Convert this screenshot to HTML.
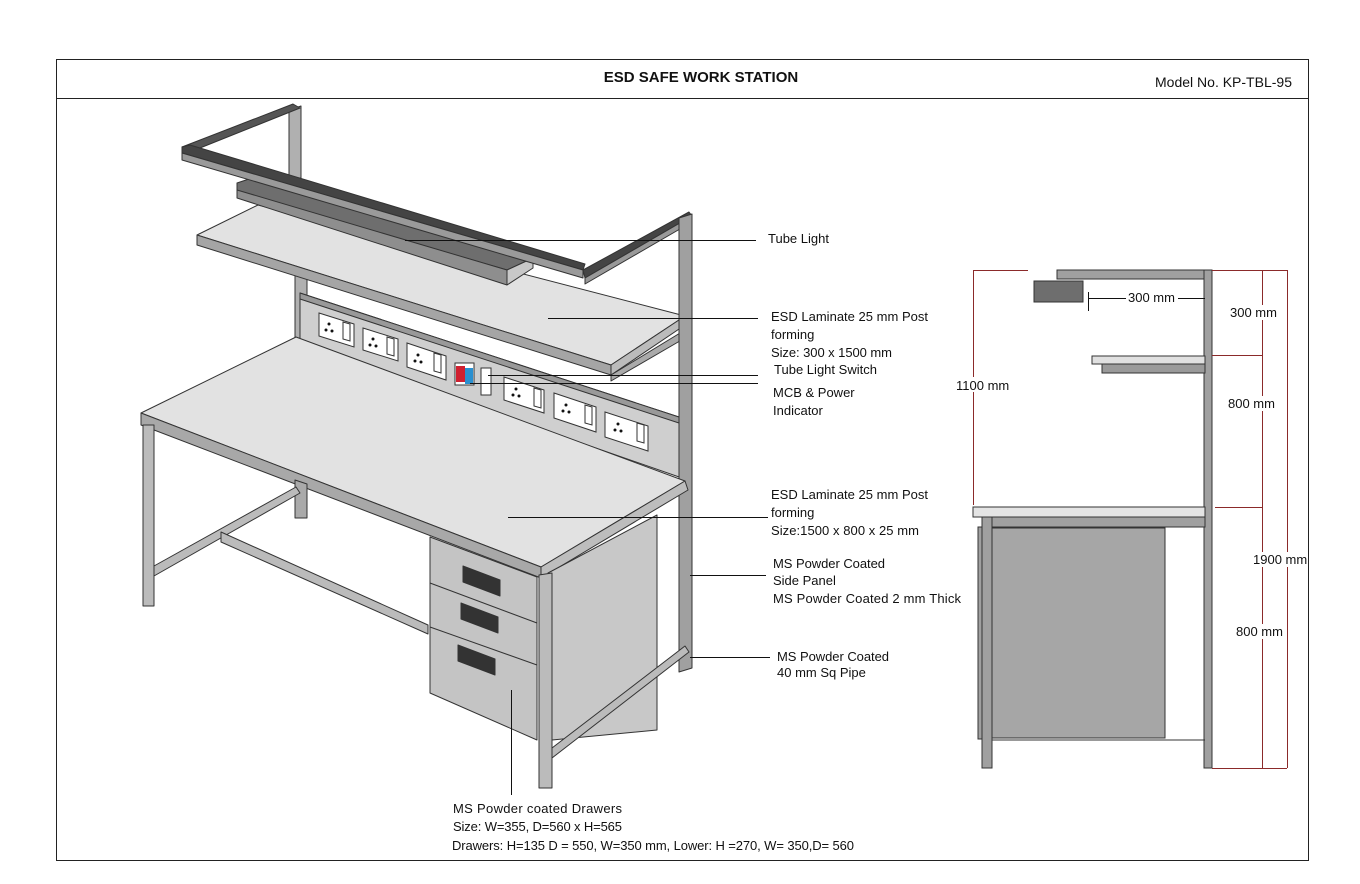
<!DOCTYPE html>
<html><head><meta charset="utf-8"><style>
html,body{margin:0;padding:0;background:#fff;}
svg{display:block;}
text{font-family:"Liberation Sans",sans-serif;font-size:13px;fill:#111;}
</style></head><body>
<svg width="1360" height="884" viewBox="0 0 1360 884" xmlns="http://www.w3.org/2000/svg">
<rect x="0" y="0" width="1360" height="884" fill="#fff"/>
<rect x="56.5" y="59.5" width="1252" height="801" fill="none" stroke="#222" stroke-width="1"/>
<line x1="56" y1="98.5" x2="1308" y2="98.5" stroke="#222"/>
<text x="701" y="82" text-anchor="middle" style="font-weight:bold;font-size:15px">ESD SAFE WORK STATION</text>
<text x="1155" y="87" style="font-size:14px" textLength="137">Model No. KP-TBL-95</text>

<g stroke="#333" stroke-width="1" stroke-linejoin="round">
<polygon points="289,110 301,106 301,178 289,178" fill="#b0b0b0"/>
<polygon points="182,147 293,104 300,108 190,152" fill="#555"/>
<polygon points="182,147 190,152 190,157 182,152" fill="#888"/>
<polygon points="295,275 307,275 307,340 295,340" fill="#b0b0b0"/>
<polygon points="300,293 682,418 682,478 300,345" fill="#cfcfcf"/>
<polygon points="300,293 682,418 682,424 300,299" fill="#999"/>
<!-- upper shelf -->
<polygon points="197,235 258,205 685,316 611,365" fill="#e2e2e2"/>
<polygon points="197,235 611,365 611,375 197,245" fill="#a5a5a5"/>
<polygon points="611,365 685,316 685,325 611,375" fill="#bbb"/>
<polygon points="611,375 685,330 685,338 611,381" fill="#aaa"/>
<!-- tube light -->
<polygon points="237,183 252,178 533,258 507,270 237,192" fill="#6e6e6e"/>
<polygon points="237,190 507,270 507,285 237,198" fill="#8e8e8e"/>
<polygon points="507,270 533,258 533,268 507,285" fill="#c8c8c8"/>
<!-- top frame front bar -->
<polygon points="182,147 190,145 585,264 583,270 182,153" fill="#444"/>
<polygon points="182,153 583,270 583,278 182,160" fill="#9a9a9a"/>
<polygon points="583,270 689,212 692,216 585,278" fill="#444"/>
<polygon points="585,278 692,216 692,222 585,284" fill="#999"/>
<polygon points="679,218 692,214 692,668 679,672" fill="#a0a0a0"/>
<!-- desk -->
<polygon points="141,413 296,337 685,481 541,567" fill="#e2e2e2"/>
<polygon points="141,413 541,567 541,578 141,425" fill="#a8a8a8"/>
<polygon points="541,567 685,481 688,490 541,578" fill="#bdbdbd"/>
<polygon points="143,425 154,425 154,606 143,606" fill="#bbb"/>
<polygon points="295,480 307,484 307,518 295,518" fill="#aaa"/>
<polygon points="154,566 296,487 300,493 154,576" fill="#bbb"/>
<polygon points="221,532 428,625 428,634 221,542" fill="#bbb"/>
<polygon points="548,573 657,515 657,730 552,740" fill="#c8c8c8"/>
<polygon points="552,748 685,646 689,652 552,758" fill="#bbb"/>
<polygon points="430,537 537,577 537,740 430,693" fill="#c4c4c4"/>
<line x1="430" y1="583" x2="537" y2="623"/>
<line x1="430" y1="627" x2="537" y2="665"/>
<polygon points="463,566 500,580 500,596 463,582" fill="#333"/>
<polygon points="461,603 498,617 498,633 461,619" fill="#333"/>
<polygon points="458,645 495,659 495,675 458,661" fill="#333"/>
<polygon points="539,575 552,573 552,788 539,788" fill="#bbb"/>
</g>
<g stroke="#333" stroke-width="1" fill="#fff">
<polygon points="319,313 354,324 354,347 319,336"/>
<polygon points="363,328 398,339 398,361 363,350"/>
<polygon points="407,343 446,356 446,380 407,367"/>
<polygon points="504,377 544,390 544,413 504,400"/>
<polygon points="554,393 596,407 596,432 554,418"/>
<polygon points="605,412 648,426 648,451 605,437"/>
<polygon points="343,322 350,324 350,341 343,339"/>
<polygon points="387,337 394,339 394,356 387,354"/>
<polygon points="434,353 441,355 441,373 434,371"/>
<polygon points="534,388 541,390 541,408 534,406"/>
<polygon points="585,405 592,407 592,425 585,423"/>
<polygon points="637,423 644,425 644,443 637,441"/>
<rect x="455" y="363" width="19" height="22"/>
<rect x="481" y="368" width="10" height="27"/>
</g>
<rect x="456" y="366" width="9" height="16" fill="#d02030"/>
<rect x="465" y="368" width="8" height="16" fill="#2a90d0"/>
<g fill="#111">
<circle cx="329" cy="324" r="1.5"/><circle cx="326" cy="330" r="1.5"/><circle cx="332" cy="331" r="1.5"/>
<circle cx="373" cy="339" r="1.5"/><circle cx="370" cy="345" r="1.5"/><circle cx="376" cy="346" r="1.5"/>
<circle cx="418" cy="355" r="1.5"/><circle cx="415" cy="361" r="1.5"/><circle cx="421" cy="362" r="1.5"/>
<circle cx="516" cy="389" r="1.5"/><circle cx="513" cy="395" r="1.5"/><circle cx="519" cy="396" r="1.5"/>
<circle cx="566" cy="405" r="1.5"/><circle cx="563" cy="411" r="1.5"/><circle cx="569" cy="412" r="1.5"/>
<circle cx="618" cy="424" r="1.5"/><circle cx="615" cy="430" r="1.5"/><circle cx="621" cy="431" r="1.5"/>
</g>

<g stroke="#111" stroke-width="1">
<line x1="405" y1="240.5" x2="756" y2="240.5"/>
<line x1="548" y1="318.5" x2="758" y2="318.5"/>
<line x1="488" y1="375.5" x2="758" y2="375.5"/>
<line x1="470" y1="383.5" x2="758" y2="383.5"/>
<line x1="508" y1="517.5" x2="768" y2="517.5"/>
<line x1="690" y1="575.5" x2="766" y2="575.5"/>
<line x1="690" y1="657.5" x2="770" y2="657.5"/>
<line x1="511.5" y1="690" x2="511.5" y2="795"/>
</g>
<text x="768" y="243">Tube Light</text>
<text x="771" y="321" textLength="157">ESD Laminate 25 mm Post</text>
<text x="771" y="339">forming</text>
<text x="771" y="357" textLength="121">Size: 300 x 1500 mm</text>
<text x="774" y="374" textLength="103">Tube Light Switch</text>
<text x="773" y="397">MCB &amp; Power</text>
<text x="773" y="415">Indicator</text>
<text x="771" y="499" textLength="157">ESD Laminate 25 mm Post</text>
<text x="771" y="517">forming</text>
<text x="771" y="535" textLength="148">Size:1500  x 800 x 25 mm</text>
<text x="773" y="568" textLength="112">MS Powder Coated</text>
<text x="773" y="585">Side Panel</text>
<text x="773" y="603" textLength="188">MS Powder Coated 2 mm Thick</text>
<text x="777" y="661" textLength="112">MS Powder Coated</text>
<text x="777" y="677">40 mm Sq Pipe</text>
<text x="453" y="813" textLength="169">MS Powder coated Drawers</text>
<text x="453" y="831" textLength="169">Size:  W=355, D=560 x H=565</text>
<text x="452" y="850" textLength="402">Drawers: H=135 D = 550, W=350 mm, Lower: H =270, W= 350,D= 560</text>

<g stroke="#333" stroke-width="1">
<rect x="1057" y="270" width="155" height="9" fill="#a0a0a0"/>
<rect x="1204" y="270" width="8" height="498" fill="#a0a0a0"/>
<rect x="1034" y="281" width="49" height="21" fill="#6e6e6e"/>
<rect x="1092" y="356" width="113" height="8" fill="#e0e0e0"/>
<rect x="1102" y="364" width="103" height="9" fill="#9a9a9a"/>
<rect x="973" y="507" width="232" height="10" fill="#e4e4e4"/>
<rect x="982" y="517" width="223" height="10" fill="#a0a0a0"/>
<rect x="978" y="527" width="4" height="212" fill="#a0a0a0"/>
<rect x="982" y="517" width="10" height="251" fill="#a0a0a0"/>
<rect x="992" y="528" width="173" height="210" fill="#a6a6a6"/>
<line x1="992" y1="740" x2="1205" y2="740"/>
</g>
<g stroke="#111" stroke-width="1">
<line x1="1088" y1="298.5" x2="1205" y2="298.5"/>
<line x1="1088.5" y1="292" x2="1088.5" y2="311"/>
</g>
<rect x="1126" y="290" width="52" height="14" fill="#fff"/>
<text x="1128" y="302">300 mm</text>
<g stroke="#8b2a2a" stroke-width="1">
<line x1="973.5" y1="270" x2="973.5" y2="505"/>
<line x1="973" y1="270.5" x2="1028" y2="270.5"/>
<line x1="1212" y1="270.5" x2="1287" y2="270.5"/>
<line x1="1287.5" y1="270" x2="1287.5" y2="768"/>
<line x1="1212" y1="768.5" x2="1287" y2="768.5"/>
<line x1="1262.5" y1="270" x2="1262.5" y2="768"/>
<line x1="1212" y1="355.5" x2="1262" y2="355.5"/>
<line x1="1215" y1="507.5" x2="1262" y2="507.5"/>
</g>
<rect x="955" y="377" width="56" height="15" fill="#fff"/>
<text x="956" y="390">1100 mm</text>
<rect x="1229" y="305" width="52" height="15" fill="#fff"/>
<text x="1230" y="317">300 mm</text>
<rect x="1227" y="396" width="52" height="15" fill="#fff"/>
<text x="1228" y="408">800 mm</text>
<rect x="1252" y="552" width="56" height="15" fill="#fff"/>
<text x="1253" y="564">1900 mm</text>
<rect x="1235" y="624" width="50" height="15" fill="#fff"/>
<text x="1236" y="636">800 mm</text>
</svg>
</body></html>
